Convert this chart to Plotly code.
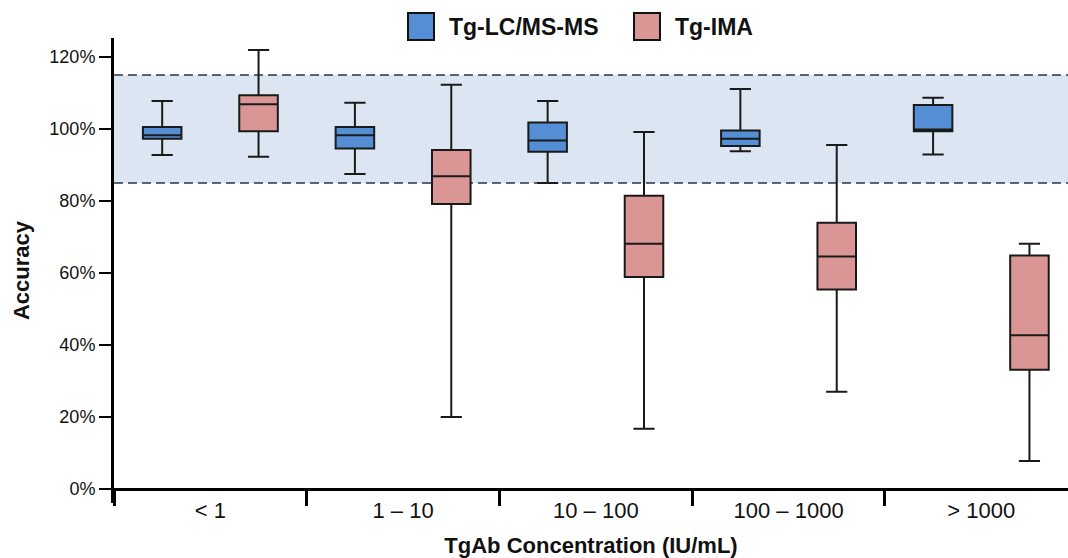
import plotly.graph_objects as go

categories = ["< 1", "1 – 10", "10 – 100", "100 – 1000", "> 1000"]

lcms_low = [92.8, 87.5, 85.0, 93.8, 92.9]
lcms_q1 = [97.3, 94.6, 93.7, 95.3, 99.4]
lcms_med = [98.3, 98.3, 96.8, 97.3, 99.9]
lcms_q3 = [100.6, 100.6, 101.8, 99.6, 106.7]
lcms_high = [107.8, 107.3, 107.8, 111.1, 108.7]

ima_low = [92.3, 20.0, 16.7, 27.0, 7.8]
ima_q1 = [99.4, 79.2, 58.9, 55.4, 33.1]
ima_med = [106.9, 86.9, 68.1, 64.6, 42.7]
ima_q3 = [109.4, 94.2, 81.5, 74.0, 64.9]
ima_high = [122.0, 112.3, 99.2, 95.6, 68.1]

y_ticks = [0, 20, 40, 60, 80, 100, 120]
y_tick_labels = ["0%", "20%", "40%", "60%", "80%", "100%", "120%"]
band_low, band_high = 85, 115

BLUE = "#558ED5"
RED = "#D99694"
FONT = "Liberation Sans, Arial, sans-serif"

W, H = 1068, 558
L, R, T, B = 114, 0, 38, 55
plot_w = W - L - R
plot_h = H - T - B

fig = go.Figure()
fig.add_trace(go.Box(
    name="Tg-LC/MS-MS", x=categories,
    lowerfence=lcms_low, q1=lcms_q1, median=lcms_med, q3=lcms_q3, upperfence=lcms_high,
    fillcolor=BLUE, line=dict(color="#1a1a1a", width=2), whiskerwidth=0.55,
    boxpoints=False, showlegend=False, hoverinfo="skip"))
fig.add_trace(go.Box(
    name="Tg-IMA", x=categories,
    lowerfence=ima_low, q1=ima_q1, median=ima_med, q3=ima_q3, upperfence=ima_high,
    fillcolor=RED, line=dict(color="#1a1a1a", width=2), whiskerwidth=0.55,
    boxpoints=False, showlegend=False, hoverinfo="skip"))

# acceptance band
fig.add_shape(type="rect", xref="paper", yref="y", x0=0, x1=1, y0=band_low, y1=band_high,
              fillcolor="#DCE6F2", line=dict(width=0), layer="below")
for yv in (band_low, band_high):
    fig.add_shape(type="line", xref="paper", yref="y", x0=0, x1=1, y0=yv, y1=yv,
                  line=dict(color="#26364F", width=1.5, dash="9px,5px"), layer="below")

# manual legend (large swatches)
def px_x(p):
    return (p - L) / plot_w

def px_y(p):
    return (H - B - p) / plot_h

legend_items = [("Tg-LC/MS-MS", BLUE, 408, 447), ("Tg-IMA", RED, 634, 673)]
for label, col, sx, tx in legend_items:
    fig.add_shape(type="rect", xref="paper", yref="paper",
                  x0=px_x(sx), x1=px_x(sx + 26), y0=px_y(40), y1=px_y(13),
                  fillcolor=col, line=dict(color="#111111", width=2))
    fig.add_annotation(xref="paper", yref="paper", x=px_x(tx), y=px_y(27),
                       xanchor="left", yanchor="middle", showarrow=False, text=label,
                       font=dict(family=FONT, size=23, color="#111111", weight="bold"))

fig.update_layout(
    width=W, height=H,
    margin=dict(l=L, r=R, t=T, b=B, autoexpand=False),
    plot_bgcolor="white", paper_bgcolor="white",
    boxmode="group", boxgap=0, boxgroupgap=0.6,
    font=dict(family=FONT, color="#111111"),
    xaxis=dict(
        type="category", categoryorder="array", categoryarray=categories,
        range=[-0.5, 4.45], anchor="free", position=14 / plot_h,
        showline=True, linecolor="black", linewidth=3,
        ticks="outside", tickson="boundaries", ticklen=15, tickwidth=3, tickcolor="black",
        tickfont=dict(size=22, family=FONT, color="#111111"), ticklabelstandoff=1,
        showgrid=False, zeroline=False,
        title=dict(text="TgAb Concentration (IU/mL)", standoff=16,
                   font=dict(size=22, family=FONT, color="#111111", weight="bold")),
    ),
    yaxis=dict(
        range=[-3.9, 125.3], tickmode="array", tickvals=y_ticks, ticktext=y_tick_labels,
        showline=True, linecolor="black", linewidth=3,
        ticks="outside", ticklen=12, tickwidth=2, tickcolor="black",
        tickfont=dict(size=18, family=FONT, color="#111111"),
        showgrid=False, zeroline=False,
        title=dict(text="Accuracy", standoff=14,
                   font=dict(size=22, family=FONT, color="#111111", weight="bold")),
    ),
)

fig.write_html("out.html", config={"displayModeBar": False},
               post_script="document.body.style.margin='0';document.body.style.overflow='hidden';")
